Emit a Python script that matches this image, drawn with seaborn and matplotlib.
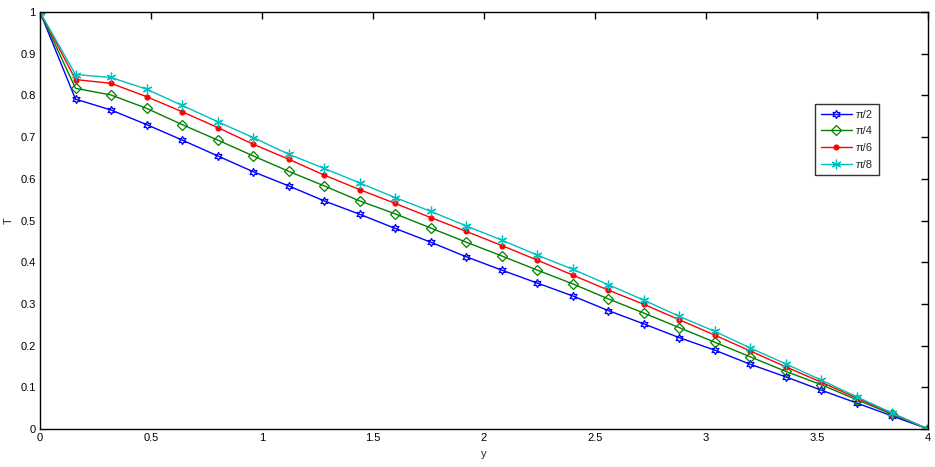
import numpy as np
import pandas as pd
import matplotlib
matplotlib.use("Agg")
import matplotlib.pyplot as plt
import seaborn as sns
from matplotlib.ticker import FuncFormatter

y_vals = [0.16 * k for k in range(26)]
t_pi2 = [1.0, 0.791, 0.765, 0.730, 0.693, 0.655, 0.617, 0.583, 0.547, 0.515, 0.481,
         0.448, 0.413, 0.381, 0.350, 0.319, 0.284, 0.252, 0.219, 0.189, 0.155,
         0.125, 0.093, 0.062, 0.031, 0.0]
t_pi4 = [1.0, 0.817, 0.801, 0.769, 0.730, 0.693, 0.655, 0.618, 0.583, 0.547, 0.516,
         0.482, 0.448, 0.415, 0.381, 0.348, 0.312, 0.278, 0.243, 0.208, 0.173,
         0.138, 0.106, 0.070, 0.035, 0.0]
t_pi6 = [1.0, 0.838, 0.829, 0.797, 0.761, 0.723, 0.683, 0.647, 0.609, 0.574, 0.541,
         0.507, 0.474, 0.440, 0.405, 0.369, 0.333, 0.299, 0.262, 0.225, 0.187,
         0.149, 0.112, 0.074, 0.037, 0.0]
t_pi8 = [1.0, 0.850, 0.843, 0.815, 0.776, 0.737, 0.699, 0.659, 0.625, 0.590, 0.555,
         0.522, 0.487, 0.453, 0.417, 0.383, 0.346, 0.309, 0.270, 0.234, 0.194,
         0.156, 0.117, 0.077, 0.038, 0.0]
labels = ["π/2", "π/4", "π/6", "π/8"]
x_ticks = [0, 0.5, 1, 1.5, 2, 2.5, 3, 3.5, 4]
y_ticks = [0, 0.1, 0.2, 0.3, 0.4, 0.5, 0.6, 0.7, 0.8, 0.9, 1.0]

sns.set_style("white")
plt.rcParams['font.family'] = ['Liberation Sans', 'DejaVu Sans']

fig = plt.figure(figsize=(9.35, 4.67), dpi=100)
ax = fig.add_axes([40 / 935, 1 - 429 / 467, 888 / 935, 417 / 467])

series = [t_pi2, t_pi4, t_pi6, t_pi8]
colors = ["#0000ff", "#008000", "#ff0000", "#00bfbf"]
markers = [(6, 1, 0), "D", "o", (6, 2, 0)]
msizes = [6, 5, 3.5, 7]
fills = ["none", "none", None, None]

for vals, lab, c, m, ms, f in zip(series, labels, colors, markers, msizes, fills):
    df = pd.DataFrame({"y": y_vals, "T": vals})
    kw = dict(marker=m, markersize=ms, markeredgecolor=c, markeredgewidth=0.9)
    if f == "none":
        kw["markerfacecolor"] = "none"
    else:
        kw["markerfacecolor"] = c
    sns.lineplot(data=df, x="y", y="T", ax=ax, color=c, linewidth=1.0,
                 label=lab, **kw)

ax.set_xlim(0, 4)
ax.set_ylim(0, 1)
ax.set_xticks(x_ticks)
ax.set_yticks(y_ticks)
fmt = FuncFormatter(lambda v, p: "%g" % round(v, 2))
ax.xaxis.set_major_formatter(fmt)
ax.yaxis.set_major_formatter(fmt)
ax.tick_params(direction="in", length=5, width=1, top=True, right=True,
               labelsize=8, colors="black", pad=3)
for s in ax.spines.values():
    s.set_visible(True)
    s.set_color("black")
    s.set_linewidth(1.0)
ax.set_xlabel("y", fontsize=8, labelpad=4)
ax.set_ylabel("T", fontsize=8, labelpad=5)

leg = ax.legend(loc="upper left", bbox_to_anchor=(775 / 888, (429 - 104) / 417),
                frameon=True, fancybox=False, fontsize=8, handlelength=2.8,
                borderpad=0.5, labelspacing=0.6, handletextpad=0.4,
                borderaxespad=0)
leg.get_frame().set_edgecolor("black")
leg.get_frame().set_linewidth(1.0)

fig.savefig("out.png", dpi=100)
